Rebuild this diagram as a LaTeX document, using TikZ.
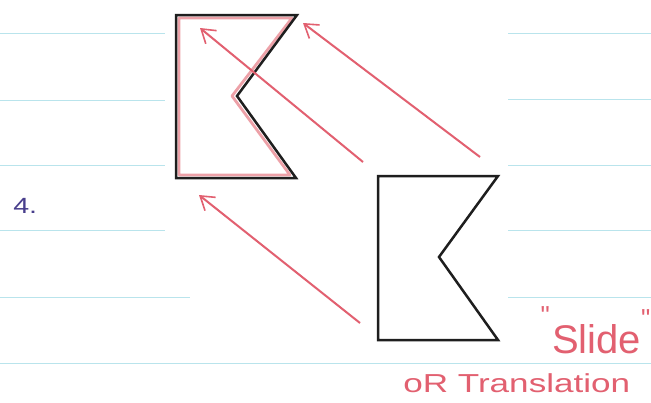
\documentclass[tikz,border=0pt]{standalone}
\usepackage{fontspec}
\setmainfont{Liberation Sans}
\usetikzlibrary{arrows.meta}
\definecolor{ruleline}{RGB}{185,228,236}
\definecolor{penred}{RGB}{226,96,112}
\definecolor{tracepink}{RGB}{232,130,140}
\definecolor{inkblue}{RGB}{72,62,140}
\definecolor{inkblack}{RGB}{30,30,30}
\tikzset{
  rule/.style={ruleline, line width=1pt},
  flagline/.style={inkblack, line width=2.5pt, line join=miter},
  trace/.style={tracepink, line width=2.8pt, opacity=0.75, line join=round},
  slidearrow/.style={penred, line width=2pt, -{Straight Barb[length=13pt,width=17pt,line width=1.6pt]}},
  handtext/.style={inner sep=0pt, font=\fontsize{#1}{#1}\selectfont},
}
\begin{document}
\begin{tikzpicture}[x=1pt,y=-1pt]
\fill[white] (0,0) rectangle (651,402);
\useasboundingbox (0,0) rectangle (651,402);
% ruled notebook lines
\foreach \yy/\xa in {33/165,100/165,165/165,230/165,297/190}{
  \draw[rule] (0,\yy) -- (\xa,\yy);
}
\foreach \yy in {33,99,165,230,297}{
  \draw[rule] (508,\yy) -- (651,\yy);
}
\draw[rule] (0,363) -- (651,363);
% original figure (bottom right)
\coordinate (B1) at (378,176);
\coordinate (B2) at (498,176);
\coordinate (B3) at (439,257);
\coordinate (B4) at (498,340);
\coordinate (B5) at (378,340);
\draw[flagline] (B1) -- (B2) -- (B3) -- (B4) -- (B5) -- cycle;
% image figure (top left)
\draw[trace] (179,18) -- (292,18) -- (232,96) -- (290,175) -- (179,175) -- cycle;
\coordinate (A1) at (176,15);
\coordinate (A2) at (297,15);
\coordinate (A3) at (237,96);
\coordinate (A4) at (296,178);
\coordinate (A5) at (176,178);
\draw[flagline] (A1) -- (A2) -- (A3) -- (A4) -- (A5) -- cycle;
% arrows
\coordinate (t1) at (363,162);
\coordinate (h1) at (200,28);
\coordinate (t2) at (480,157);
\coordinate (h2) at (303,23);
\coordinate (t3) at (360,323);
\coordinate (h3) at (199,195);
\draw[slidearrow] (t1) -- (h1);
\draw[slidearrow] (t2) -- (h2);
\draw[slidearrow] (t3) -- (h3);
% labels
\node[handtext=22, text=inkblue, anchor=base west, xscale=1.3] (num) at (13,213) {4.};
\node[handtext=26, text=penred, anchor=north east] (lq) at (550,306) {\textquotedbl};
\node[handtext=40, text=penred, anchor=base west] (slide) at (552,353) {Slide};
\node[handtext=26, text=penred, anchor=north west] (rq) at (641,309) {\textquotedbl};
\node[handtext=26, text=penred, anchor=base west, xscale=1.35] (trans) at (403,392) {oR Translation};
\end{tikzpicture}
\end{document}
